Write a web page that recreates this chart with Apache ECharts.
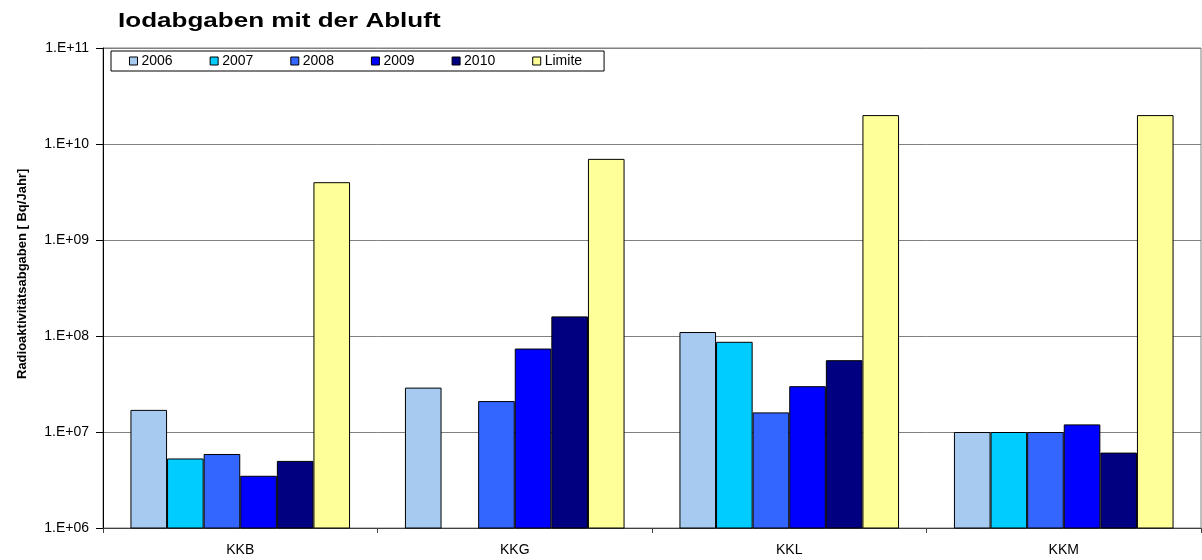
<!DOCTYPE html>
<html>
<head>
<meta charset="utf-8">
<script src="https://cdn.jsdelivr.net/npm/echarts@6/dist/echarts.min.js"></script>
<style>html,body{margin:0;padding:0;background:#fff}#c{width:1202px;height:560px}</style>
</head>
<body>
<div id="c"></div>
<script>
const categories = ['KKB', 'KKG', 'KKL', 'KKM'];
const s2006 = [1.7e7, 2.9e7, 1.1e8, 1.0e7];
const s2007 = [5.3e6, null, 8.7e7, 1.0e7];
const s2008 = [5.9e6, 2.1e7, 1.6e7, 1.0e7];
const s2009 = [3.5e6, 7.4e7, 3.0e7, 1.2e7];
const s2010 = [5.0e6, 1.6e8, 5.6e7, 6.1e6];
const limite = [4.0e9, 7.0e9, 2.0e10, 2.0e10];
const seriesNames = ['2006', '2007', '2008', '2009', '2010', 'Limite'];
const seriesColors = ['#A6CAF0', '#00CCFF', '#3366FF', '#0000FF', '#000080', '#FFFF99'];
const seriesData = [s2006, s2007, s2008, s2009, s2010, limite];
const titleText = 'Iodabgaben mit der Abluft';
const yAxisTitle = 'Radioaktivitätsabgaben [ Bq/Jahr]';

const FONT = '"Liberation Sans", Arial, sans-serif';
const chart = echarts.init(document.getElementById('c'), null, {renderer: 'canvas'});
chart.setOption({
  animation: false,
  backgroundColor: '#fff',
  legend: {
    left: 111, top: 51, padding: [3, 22, 3, 18],
    itemGap: 37, itemWidth: 8, itemHeight: 8,
    icon: 'rect',
    borderColor: '#000', borderWidth: 1, backgroundColor: '#fff',
    textStyle: {fontFamily: FONT, fontSize: 14, color: '#000', padding: [0, 0, 0, -1]},
    data: seriesNames.map((n, i) => ({name: n, itemStyle: {color: seriesColors[i], borderColor: '#000', borderWidth: 1}}))
  },
  grid: {left: 103, right: 1, top: 48, bottom: 32, show: true, borderColor: '#808080', borderWidth: 1},
  xAxis: {
    type: 'category', data: categories,
    axisLine: {lineStyle: {color: '#404040', width: 1}},
    axisTick: {show: true, length: 5, lineStyle: {color: '#404040'}},
    axisLabel: {fontFamily: FONT, fontSize: 14, color: '#000', margin: 15}
  },
  yAxis: {
    type: 'log', logBase: 10, min: 1e6, max: 1e11,
    axisLine: {show: true, lineStyle: {color: '#000', width: 1}},
    axisTick: {show: true, length: 7, lineStyle: {color: '#000'}},
    splitLine: {lineStyle: {color: '#808080', width: 1}},
    axisLabel: {
      fontFamily: FONT, fontSize: 14, color: '#000', margin: 14,
      formatter: v => { const e = Math.round(Math.log10(v)); return '1.E+' + (e < 10 ? '0' + e : e); }
    }
  },
  graphic: [{
    type: 'text', x: 118, y: 11, scaleX: 1.24,
    style: {text: titleText, font: 'bold 21px ' + FONT, fill: '#000'}
  }, {
    type: 'text', x: 16, y: 379, rotation: Math.PI / 2,
    style: {text: yAxisTitle, font: 'bold 13px ' + FONT, fill: '#000'}
  }],
  series: seriesNames.map((n, i) => ({
    name: n, type: 'bar', data: seriesData[i],
    barGap: '0%', barCategoryGap: '20%',
    itemStyle: {color: seriesColors[i], borderColor: '#000', borderWidth: 1}
  }))
});
</script>
</body>
</html>
